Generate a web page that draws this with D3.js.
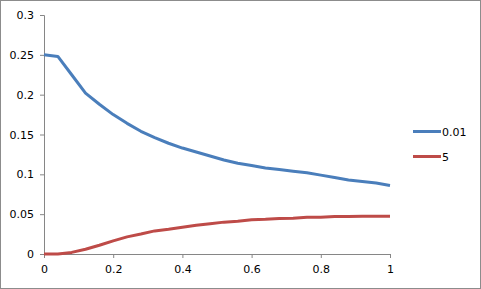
<!DOCTYPE html>
<html>
<head>
<meta charset="utf-8">
<script src="https://cdn.jsdelivr.net/npm/d3@7"></script>
<style>
  body { margin: 0; background: #fff; }
  svg { display: block; font-family: 'DejaVu Sans', sans-serif; }
</style>
</head>
<body>
<div id="viz"></div>
<script>
const width = 481;
const height = 289;
const margin = {top: 15, right: 91, bottom: 35, left: 44};

// data
const xValues = [0, 0.04, 0.08, 0.12, 0.16, 0.2, 0.24, 0.28, 0.32, 0.36, 0.4, 0.44, 0.48,
  0.52, 0.56, 0.6, 0.64, 0.68, 0.72, 0.76, 0.8, 0.84, 0.88, 0.92, 0.96, 1];
const series001 = [0.250, 0.248, 0.225, 0.202, 0.188, 0.175, 0.164, 0.154, 0.146, 0.139, 0.133,
  0.128, 0.123, 0.118, 0.114, 0.111, 0.108, 0.106, 0.104, 0.102, 0.099, 0.096, 0.093, 0.091,
  0.089, 0.086];
const series5 = [0, 0, 0.002, 0.006, 0.011, 0.0165, 0.0215, 0.025, 0.029, 0.031, 0.0335,
  0.036, 0.038, 0.040, 0.041, 0.043, 0.0435, 0.0445, 0.045, 0.046, 0.046, 0.047, 0.047,
  0.0475, 0.0475, 0.0475];
const seriesNames = ['0.01', '5'];
const xTicks = [0, 0.2, 0.4, 0.6, 0.8, 1];
const yTicks = [0, 0.05, 0.1, 0.15, 0.2, 0.25, 0.3];

const colors = ['#4a7ebb', '#be4b48'];
const axisColor = '#868686';

const svg = d3.select('#viz')
  .append('svg')
    .attr('width', width)
    .attr('height', height);

// outer border
svg.append('rect')
  .attr('x', 0.5).attr('y', 0.5)
  .attr('width', width - 1).attr('height', height - 1)
  .attr('fill', '#fff')
  .attr('stroke', '#8c8c8c');

const xScale = d3.scaleLinear()
  .domain([0, 1])
  .range([margin.left, width - margin.right]);

const yScale = d3.scaleLinear()
  .domain([0, 0.3])
  .range([height - margin.bottom, margin.top]);

const xAxis = svg.append('g')
  .attr('transform', `translate(0, ${yScale(0)})`)
  .call(d3.axisBottom(xScale).tickValues(xTicks).tickSize(4).tickPadding(7).tickFormat(d3.format('~g')));

const yAxis = svg.append('g')
  .attr('transform', `translate(${xScale(0)}, 0)`)
  .call(d3.axisLeft(yScale).tickValues(yTicks).tickSize(4).tickPadding(6).tickFormat(d3.format('~g')));

[xAxis, yAxis].forEach(ax => {
  ax.select('.domain').attr('stroke', axisColor);
  ax.selectAll('.tick line').attr('stroke', axisColor);
  ax.selectAll('.tick text')
    .attr('fill', '#000')
    .style('font-family', "'DejaVu Sans', sans-serif")
    .style('font-size', '11px');
});

const line = d3.line()
  .x((d, i) => xScale(xValues[i]))
  .y(d => yScale(d));

[series001, series5].forEach((s, i) => {
  svg.append('path')
    .attr('d', line(s))
    .attr('fill', 'none')
    .attr('stroke', colors[i])
    .attr('stroke-width', 3)
    .attr('stroke-linejoin', 'round');
});

// legend
const legend = svg.append('g');
seriesNames.forEach((name, i) => {
  const y = 131.5 + i * 25;
  legend.append('line')
    .attr('x1', 413).attr('x2', 441)
    .attr('y1', y).attr('y2', y)
    .attr('stroke', colors[i])
    .attr('stroke-width', 3);
  legend.append('text')
    .attr('x', 442)
    .attr('y', y + 4)
    .attr('font-size', '11px')
    .text(name);
});
</script>
</body>
</html>
